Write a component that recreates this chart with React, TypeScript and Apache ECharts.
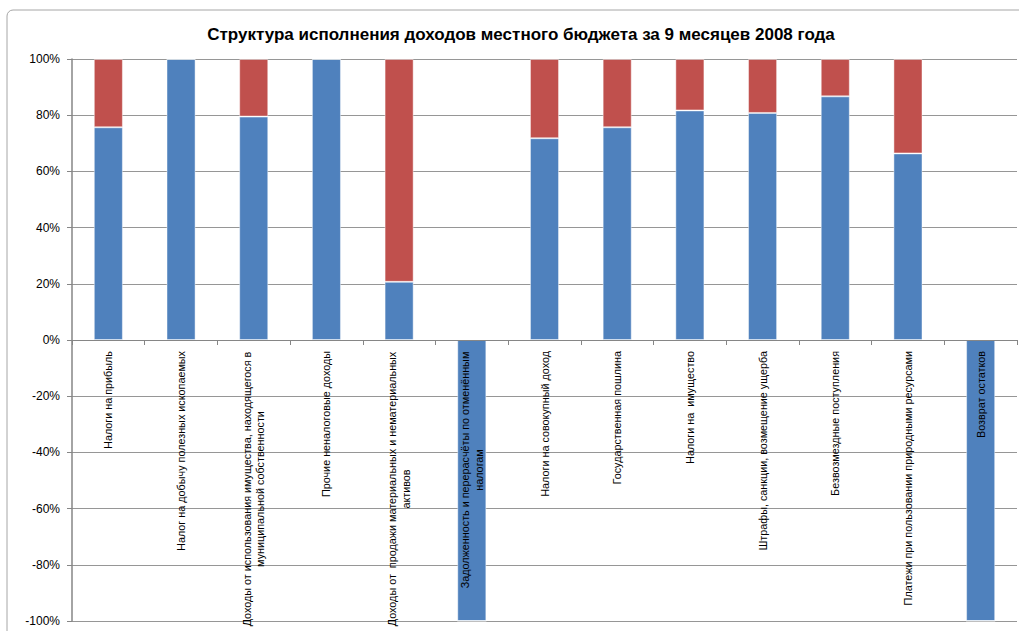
import React, { useEffect, useRef } from "react";
import * as echarts from "echarts";

const categories: string[] = [
  "Налоги на прибыль",
  "Налог на добычу полезных ископаемых",
  "Доходы от использования имущества, находящегося в\nмуниципальной собственности",
  "Прочие неналоговые доходы",
  "Доходы от  продажи материальных и нематериальных\nактивов",
  "Задолженность и перерасчёты по отменённым\nналогам",
  "Налоги на совокупный доход",
  "Государственная пошлина",
  "Налоги на  имущество",
  "Штрафы, санкции, возмещение ущерба",
  "Безвозмездные поступления",
  "Платежи при пользовании природными ресурсами",
  "Возврат остатков",
];

const executedShare: number[] = [75.7, 100, 79.5, 100, 20.7, -100, 71.8, 75.7, 81.7, 80.8, 86.7, 66.4, -100];
const remainderShare: number[] = [24.3, 0, 20.5, 0, 79.3, 0, 28.2, 24.3, 18.3, 19.2, 13.3, 33.6, 0];

const yTicks = { min: -100, max: 100, interval: 20 };

const TITLE = "Структура исполнения доходов местного бюджета за 9 месяцев 2008 года";
const LABEL_FONT = "'Liberation Sans', Arial, sans-serif";
const LABEL_SIZE = 10.8;
const LABEL_LH = 13.5;

const GRID_TOP = 59;
const GRID_BOTTOM = 10;
const CHART_H = 631;

function measure(text: string, size: number, family: string, weight = "normal"): number {
  const c = document.createElement("canvas");
  const ctx = c.getContext("2d");
  if (!ctx) return text.length * size * 0.55;
  ctx.font = `${weight} ${size}px ${family}`;
  return ctx.measureText(text).width;
}

export default function App() {
  const ref = useRef<HTMLDivElement>(null);

  useEffect(() => {
    if (!ref.current) return;
    const chart = echarts.init(ref.current, undefined, { renderer: "svg" });

    const rich: Record<string, any> = {};
    categories.forEach((c, i) => {
      if (c.includes("\n")) {
        const w = Math.max(...c.split("\n").map((l) => measure(l, LABEL_SIZE, LABEL_FONT)));
        rich["m" + i] = {
          width: Math.ceil(w) + 1,
          align: "center",
          fontSize: LABEL_SIZE,
          fontFamily: LABEL_FONT,
          color: "#000",
          lineHeight: LABEL_LH,
        };
      }
    });

    // distance between the grid bottom (min) and the zero line, so labels sit on the zero line
    const plotH = CHART_H - GRID_TOP - GRID_BOTTOM;
    const zeroOffset = (plotH * (0 - yTicks.min)) / (yTicks.max - yTicks.min);

    chart.setOption({
      animation: false,
      backgroundColor: "#fff",
      title: {
        text: TITLE,
        left: 516,
        top: 21,
        textAlign: "center",
        textStyle: {
          fontFamily: "'Liberation Sans', Arial, sans-serif",
          fontWeight: "bold",
          fontSize: 17,
          color: "#000",
        },
      },
      graphic: [
        {
          type: "rect",
          shape: { x: 7, y: 10, width: 1100, height: 700, r: 6 },
          style: { fill: "none", stroke: "#A6A6A6", lineWidth: 1 },
          silent: true,
          z: -10,
        },
      ],
      grid: {
        left: 72,
        right: 2,
        top: GRID_TOP,
        bottom: GRID_BOTTOM,
        containLabel: false,
        outerBoundsMode: "none",
      },
      xAxis: {
        type: "category",
        data: categories,
        position: "bottom",
        offset: -zeroOffset,
        z: 10,
        axisLine: { onZero: false, lineStyle: { color: "#868686", width: 1 } },
        axisTick: { show: true, length: 5, alignWithLabel: false, lineStyle: { color: "#868686" } },
        axisLabel: {
          interval: 0,
          rotate: 90,
          margin: 11,
          fontSize: LABEL_SIZE,
          fontFamily: LABEL_FONT,
          color: "#000",
          lineHeight: LABEL_LH,
          hideOverlap: false,
          formatter: (value: string, index: number) => {
            if (!value.includes("\n")) return value;
            return value
              .split("\n")
              .map((l) => `{m${index}|${l}}`)
              .join("\n");
          },
          rich,
        },
        splitLine: { show: false },
      },
      yAxis: {
        type: "value",
        min: yTicks.min,
        max: yTicks.max,
        interval: yTicks.interval,
        axisLine: { show: true, lineStyle: { color: "#868686", width: 1.5 } },
        axisTick: { show: true, inside: false, length: 5, lineStyle: { color: "#868686" } },
        axisLabel: {
          formatter: (v: number) => `${v}%`,
          fontSize: 12,
          fontFamily: "'Liberation Sans', Arial, sans-serif",
          color: "#000",
          margin: 12,
        },
        splitLine: { show: true, lineStyle: { color: "#969696", width: 1 } },
      },
      series: [
        {
          name: "Исполнено",
          type: "bar",
          stack: "total",
          barWidth: "40%",
          data: executedShare,
          itemStyle: { color: "#4F81BD", borderColor: "rgba(255,255,255,0.45)", borderWidth: 1 },
        },
        {
          name: "Не исполнено",
          type: "bar",
          stack: "total",
          barWidth: "40%",
          data: remainderShare,
          itemStyle: { color: "#C0504D", borderColor: "rgba(255,255,255,0.45)", borderWidth: 1 },
        },
      ],
    });

    return () => chart.dispose();
  }, []);

  return (
    <div
      ref={ref}
      style={{ position: "fixed", left: 0, top: 0, width: 1019, height: 631 }}
    />
  );
}
